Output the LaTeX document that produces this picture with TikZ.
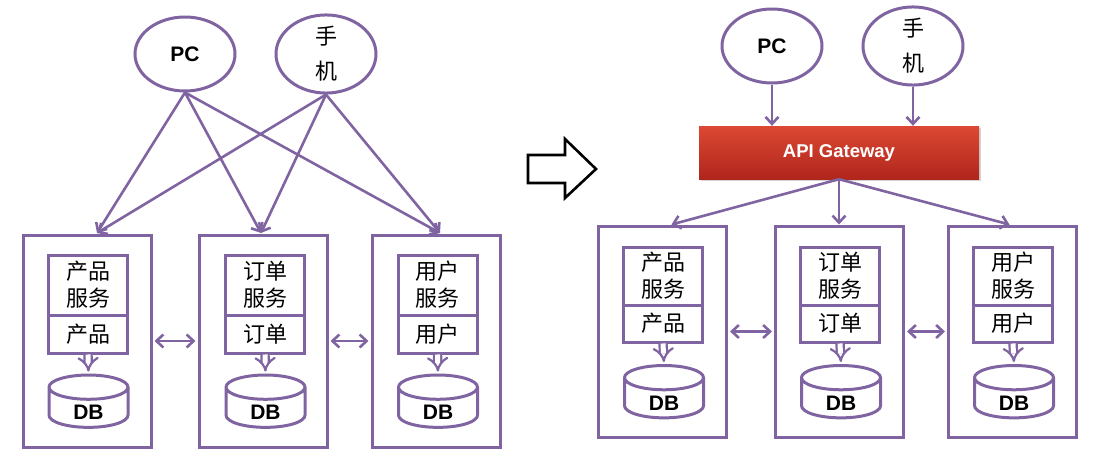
\documentclass[tikz,border=0pt]{standalone}
\usepackage{fontspec}
\setmainfont{Liberation Sans}
\newfontfamily\cjk{Noto Sans CJK SC}
\usetikzlibrary{shapes.geometric,arrows.meta,shadows}
\definecolor{pp}{HTML}{8064A2}
\definecolor{gwtop}{HTML}{DC4833}
\definecolor{gwbot}{HTML}{B0261C}
\newcommand{\dbtext}{\raisebox{-4.5pt}[\height][0pt]{DB}}
\tikzset{
  ln/.style={draw=pp, line width=3pt},
  arr/.style={ln, line width=2.6pt, -{Straight Barb[length=7pt,width=13pt]}},
  harr/.style={ln, line width=2.6pt, {Straight Barb[length=7pt,width=13pt]}-{Straight Barb[length=7pt,width=13pt]}, shorten <=2pt, shorten >=2pt},
  dbarr/.style={draw=pp, line width=2.2pt, double=white, double distance=5pt, -{Implies}, shorten >=2pt},
  ell/.style={ellipse, ln, fill=white, minimum width=100pt, minimum height=74pt, inner sep=0pt, font=\bfseries\fontsize{21}{22}\selectfont},
  ellc/.style={ell, font=\cjk\fontsize{22}{35}\selectfont, align=center},
  outer/.style={rectangle, ln, minimum width=128pt, minimum height=212pt, inner sep=0pt},
  svc/.style={rectangle, ln, minimum width=79pt, minimum height=60pt, inner sep=0pt, align=center, font=\cjk\fontsize{22}{27}\selectfont},
  nm/.style={rectangle, ln, minimum width=79pt, minimum height=38pt, inner sep=0pt, font=\cjk\fontsize{22}{24}\selectfont},
  db/.style={cylinder, shape border rotate=90, ln, aspect=0.8, minimum width=79pt, minimum height=43pt, inner sep=0pt, font=\bfseries\fontsize{21}{22}\selectfont},
  gw/.style={rectangle, top color=gwtop, bottom color=gwbot, draw=none, minimum width=280pt, minimum height=53pt, text=white, font=\bfseries\fontsize{18.5}{20}\selectfont, drop shadow={shadow xshift=2pt, shadow yshift=-2pt, opacity=0.35}},
}
\begin{document}
\begin{tikzpicture}[x=1pt,y=-1pt]
\useasboundingbox (0,0) rectangle (1103,469);
% ---------- left ----------
\node[outer] (o1) at (87,341) {};
\node[outer] (o2) at (263,341) {};
\node[outer] (o3) at (436,341) {};
\node[svc] (s1) at (88,285) {产品\\服务};
\node[svc] (s2) at (265,285) {订单\\服务};
\node[svc] (s3) at (437.5,285) {用户\\服务};
\node[nm] (n1) at (88,334) {产品};
\node[nm] (n2) at (265,334) {订单};
\node[nm] (n3) at (437.5,334) {用户};
\node[db] (d1) at (88.5,408) {\dbtext};
\node[db] (d2) at (265.5,408) {\dbtext};
\node[db] (d3) at (438,408) {\dbtext};
\draw[dbarr] (n1.south) -- (d1.north);
\draw[dbarr] (n2.south) -- (d2.north);
\draw[dbarr] (n3.south) -- (d3.north);
\draw[harr] (o1.east) -- (o2.west);
\draw[harr] (o2.east) -- (o3.west);
\node[ell] (pc) at (185,54) {PC};
\node[ellc] (ph) at (326,54) {手\\机};
\coordinate (t1) at (97,233);
\coordinate (t2) at (261,233);
\coordinate (t3) at (440,233);
\draw[arr] (pc.south) -- (t1);
\draw[arr] (pc.south) -- (t2);
\draw[arr] (pc.south) -- (t3);
\draw[arr] (ph.south) -- (t1);
\draw[arr] (ph.south) -- (t2);
\draw[arr] (ph.south) -- (t3);
% ---------- hollow arrow ----------
\draw[line width=2.6pt, fill=white, line join=miter] (528,155) -- (565,155) -- (565,139) -- (596,169) -- (565,198) -- (565,183) -- (528,183) -- cycle;
% ---------- right ----------
\node[outer, minimum height=211pt] (r1) at (662.5,331.5) {};
\node[outer, minimum height=211pt] (r2) at (839.5,331.5) {};
\node[outer, minimum height=211pt] (r3) at (1012.5,331.5) {};
\node[svc, minimum height=58pt] (rs1) at (663,276) {产品\\服务};
\node[svc, minimum height=58pt] (rs2) at (840,276) {订单\\服务};
\node[svc, minimum height=58pt] (rs3) at (1013,276) {用户\\服务};
\node[nm, minimum height=37pt] (rn1) at (663,323.5) {产品};
\node[nm, minimum height=37pt] (rn2) at (840,323.5) {订单};
\node[nm, minimum height=37pt] (rn3) at (1013,323.5) {用户};
\node[db] (rd1) at (664,398.5) {\dbtext};
\node[db] (rd2) at (841,398.5) {\dbtext};
\node[db] (rd3) at (1014,398.5) {\dbtext};
\draw[dbarr] (rn1.south) -- (rd1.north);
\draw[dbarr] (rn2.south) -- (rd2.north);
\draw[dbarr] (rn3.south) -- (rd3.north);
\draw[harr] (r1.east) -- (r2.west);
\draw[harr] (r2.east) -- (r3.west);
\node[gw] (g) at (839,152.5) {API Gateway};
\node[ell] (rpc) at (772,46) {PC};
\node[ellc] (rph) at (913,46) {手\\机};
\draw[arr] (rpc.south) -- (rpc.south |- g.north);
\draw[arr] (rph.south) -- (rph.south |- g.north);
\draw[arr] (g.south) -- ([xshift=9pt]r1.north);
\draw[arr] (g.south) -- (g.south |- r2.north);
\draw[arr] (g.south) -- ([xshift=-3pt]r3.north);
\end{tikzpicture}
\end{document}
